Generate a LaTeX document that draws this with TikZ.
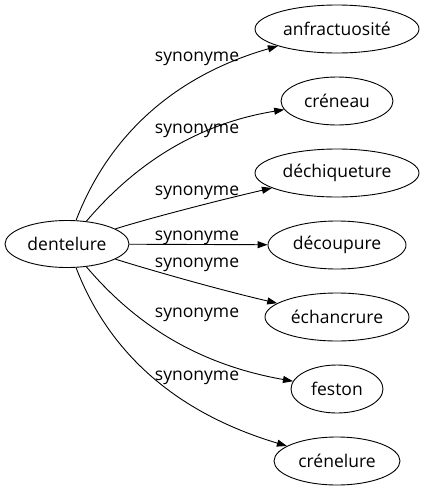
\documentclass[tikz,border=0pt]{standalone}
\usepackage{fontspec}
\setmainfont{Open Sans}
\usetikzlibrary{shapes.geometric,arrows.meta}
\begin{document}
\begin{tikzpicture}[x=1pt,y=-1pt,
  word/.style={draw, ellipse, inner sep=0pt, line width=0.9pt, minimum height=48pt, font=\fontsize{17.5}{20}\selectfont},
  lbl/.style={anchor=base, inner sep=0pt, font=\fontsize{17.5}{20}\selectfont},
  edge/.style={line width=0.9pt, -{Triangle[length=10pt,width=7pt]}}]
\useasboundingbox (0,0) rectangle (425,491);
\node[word, minimum width=124pt, minimum height=47pt] (d) at (67,244) {dentelure};
\node[word, minimum width=164pt] (n1) at (337,29) {anfractuosité};
\node[word, minimum width=112pt] (n2) at (337,101) {créneau};
\node[word, minimum width=164pt] (n3) at (337,173) {déchiqueture};
\node[word, minimum width=138pt] (n4) at (337,245) {découpure};
\node[word, minimum width=144pt] (n5) at (337,317) {échancrure};
\node[word, minimum width=92pt] (n6) at (337,389) {feston};
\node[word, minimum width=126pt] (n7) at (337,461) {crénelure};
\draw[edge] (d) .. controls (103,150) and (160,80) .. (n1);
\draw[edge] (d) .. controls (130,170) and (190,125) .. (n2);
\draw[edge] (d) .. controls (150,218) and (220,200) .. (n3);
\draw[edge] (d) -- (n4);
\draw[edge] (d) .. controls (150,270) and (220,290) .. (n5);
\draw[edge] (d) .. controls (130,318) and (190,363) .. (n6);
\draw[edge] (d) .. controls (103,338) and (160,408) .. (n7);
\node[lbl] (l1) at (197,61) {synonyme};
\node[lbl] (l2) at (197,133) {synonyme};
\node[lbl] (l3) at (197,195) {synonyme};
\node[lbl] (l4) at (197,240) {synonyme};
\node[lbl] (l5) at (197,267) {synonyme};
\node[lbl] (l6) at (197,317) {synonyme};
\node[lbl] (l7) at (197,380) {synonyme};
\end{tikzpicture}
\end{document}
